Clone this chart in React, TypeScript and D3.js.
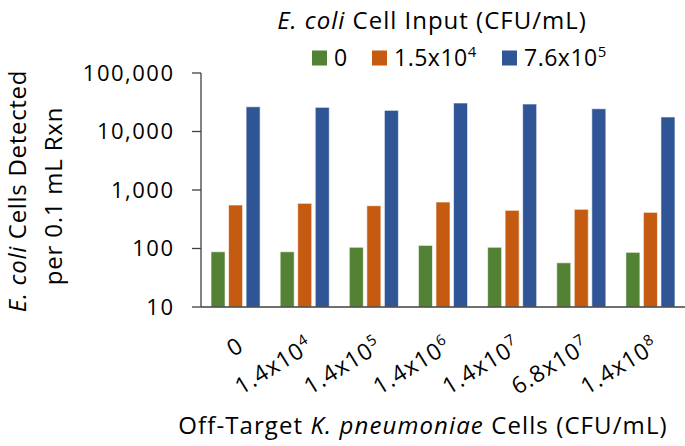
import React from "react";
import * as d3 from "d3";

const groups = ["0", "1.4x10^4", "1.4x10^5", "1.4x10^6", "1.4x10^7", "6.8x10^7", "1.4x10^8"];
const seriesNames = ["0", "1.5x10^4", "7.6x10^5"];
const seriesColors = ["#548235", "#C55A11", "#2F5597"];
const green = [88, 88, 105, 113, 105, 57, 86];
const orange = [554, 592, 539, 623, 449, 468, 415];
const blue = [26500, 25900, 23000, 30700, 29500, 24500, 17700];
const yTicks = [10, 100, 1000, 10000, 100000];

const series = [green, orange, blue];
const FONT = "'Open Sans', sans-serif";

function SupText({ label, supSize, raise }: { label: string; supSize: number; raise: number }) {
  const parts = label.split("^");
  if (parts.length === 1) return <>{label}</>;
  return (
    <>
      {parts[0]}
      <tspan dy={-raise} fontSize={supSize}>{parts[1]}</tspan>
    </>
  );
}

export default function App() {
  const W = 685, H = 446;
  const left = 201, right = 685, top = 73, bottom = 307;

  const x0 = d3.scaleBand<string>().domain(groups).range([left, right]).paddingInner(0.29).paddingOuter(0.145);
  const x1 = d3.scaleBand<number>().domain([0, 1, 2]).range([0, x0.bandwidth()]).paddingInner(0.2);
  const y = d3.scaleLog().domain([10, 100000]).range([bottom, top]);
  const fmt = d3.format(",");
  const legendX = [312, 372, 502];

  return (
    <svg width={W} height={H} style={{ position: "absolute", left: 0, top: 0, fontFamily: FONT }}>
      <rect width={W} height={H} fill="#fff" />
      {/* legend title */}
      <text x={432} y={29} textAnchor="middle" fontSize={24} letterSpacing={1} fill="#000">
        <tspan fontStyle="italic">E. coli</tspan> Cell Input (CFU/mL)
      </text>
      {/* legend items */}
      {seriesNames.map((s, i) => (
        <g key={s}>
          <rect x={legendX[i]} y={50.5} width={15} height={15} fill={seriesColors[i]} />
          <text x={legendX[i] + 22} y={66} fontSize={23} letterSpacing={0.5} fill="#000">
            <SupText label={s} supSize={15} raise={9} />
          </text>
        </g>
      ))}
      {/* bars */}
      {groups.map((g, gi) => (
        <g key={g} transform={`translate(${x0(g)},0)`}>
          {series.map((vals, si) => (
            <rect
              key={si}
              x={x1(si)}
              y={y(vals[gi])}
              width={x1.bandwidth()}
              height={bottom - y(vals[gi])}
              fill={seriesColors[si]}
              stroke="#ffffff"
              strokeOpacity={0.6}
              strokeWidth={1}
            />
          ))}
        </g>
      ))}
      {/* y axis */}
      <line x1={left} x2={left} y1={top} y2={bottom} stroke="#404040" strokeWidth={1.3} />
      {yTicks.map((t) => (
        <g key={t}>
          <line x1={left - 9} x2={left} y1={y(t)} y2={y(t)} stroke="#404040" strokeWidth={1.3} />
          <text x={174.5} y={y(t)} dy="0.36em" textAnchor="end" fontSize={22} letterSpacing={1.5} fill="#000">
            {fmt(t)}
          </text>
        </g>
      ))}
      {/* x axis */}
      <line x1={left} x2={right} y1={bottom} y2={bottom} stroke="#404040" strokeWidth={1.3} />
      {groups.map((g) => {
        const cx = (x0(g) as number) + x0.bandwidth() / 2;
        return (
          <text
            key={g}
            transform={`translate(${cx + 0.5},${335}) rotate(-32)`}
            textAnchor="end"
            dy="0.75em"
            fontSize={23}
            letterSpacing={1}
            fill="#000"
          >
            <SupText label={g} supSize={15} raise={9} />
          </text>
        );
      })}
      <text x={423} y={434} textAnchor="middle" fontSize={24} letterSpacing={1.1} fill="#000">
        Off-Target <tspan fontStyle="italic">K. pneumoniae</tspan> Cells (CFU/mL)
      </text>
      {/* y axis title */}
      <text transform={`translate(26,191) rotate(-90)`} textAnchor="middle" fontSize={24} letterSpacing={0.7} fill="#000">
        <tspan fontStyle="italic">E. coli</tspan> Cells Detected
      </text>
      <text transform={`translate(62,196) rotate(-90)`} textAnchor="middle" fontSize={24} letterSpacing={0.8} fill="#000">
        per 0.1 mL Rxn
      </text>
    </svg>
  );
}
